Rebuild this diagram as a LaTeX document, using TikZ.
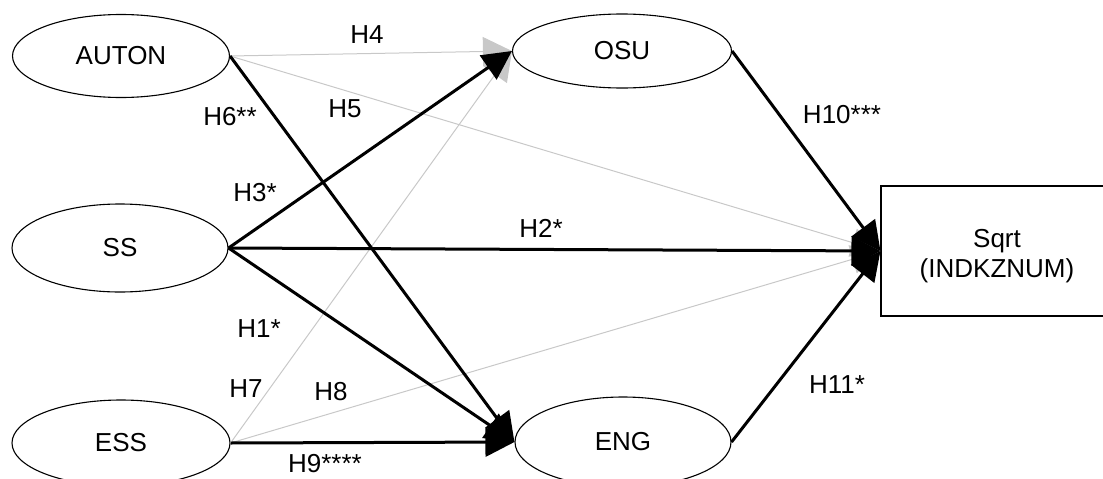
\documentclass[tikz,border=0pt]{standalone}
\usepackage{fontspec}
\setmainfont{Liberation Sans}
\usetikzlibrary{arrows.meta,shapes.geometric}
\newcommand\lblfont{\fontsize{26}{30}\selectfont}
\definecolor{weakgray}{RGB}{200,200,200}
\begin{document}
\begin{tikzpicture}[x=1pt,y=-1pt,
  construct/.style={ellipse,draw,line width=1.1pt,inner sep=0pt,font=\lblfont},
  outcome/.style={rectangle,draw,line width=1.1pt,inner sep=0pt},
  strongpath/.style={line width=3pt,-{Triangle[length=29pt,width=29pt]}},
  weakpath/.style={line width=1pt,draw=weakgray,-{Triangle[length=29pt,width=29pt,fill=weakgray]}},
  hyp/.style={anchor=base,inner sep=0pt,font=\lblfont}]
\useasboundingbox (0,0) rectangle (1103,479);

% latent constructs
\node[construct,minimum width=217pt,minimum height=83pt] (auton) at (121,56) {AUTON};
\node[construct,minimum width=216pt,minimum height=88pt] (ss) at (120,248) {SS};
\node[construct,minimum width=218pt,minimum height=86pt] (ess) at (121,443) {ESS};
\node[construct,minimum width=219pt,minimum height=74pt] (osu) at (622,51) {OSU};
\node[construct,minimum width=216pt,minimum height=90pt] (eng) at (623,442) {ENG};

% outcome box and its caption
\node[outcome,minimum width=232pt,minimum height=130pt] (sqrt) at (997,251) {};
\node[align=center,inner sep=0pt,font=\lblfont] (sqrtlabel) at (997,256) {Sqrt\\(INDKZNUM)};

% non-significant paths
\draw[weakpath] (auton.east) -- (osu.west);
\draw[weakpath] (auton.east) -- (sqrt.west);
\draw[weakpath] (ess.east) -- (osu.west);
\draw[weakpath] (ess.east) -- (sqrt.west);

% significant paths
\draw[strongpath] (auton.east) -- (eng.west);
\draw[strongpath] (ss.east) -- (osu.west);
\draw[strongpath] (ss.east) -- (sqrt.west);
\draw[strongpath] (ss.east) -- (eng.west);
\draw[strongpath] (ess.east) -- (eng.west);
\draw[strongpath] (osu.east) -- (sqrt.west);
\draw[strongpath] (eng.east) -- (sqrt.west);

% hypothesis labels
\node[hyp] (h4) at (367,43) {H4};
\node[hyp] (h5) at (345,117) {H5};
\node[hyp] (h6) at (230,125) {H6**};
\node[hyp] (h3) at (255,201) {H3*};
\node[hyp] (h2) at (541,237) {H2*};
\node[hyp] (h1) at (259,337) {H1*};
\node[hyp] (h7) at (246,397) {H7};
\node[hyp] (h8) at (331,400) {H8};
\node[hyp] (h9) at (325,472) {H9****};
\node[hyp] (h10) at (842,123) {H10***};
\node[hyp] (h11) at (837,393) {H11*};
\end{tikzpicture}
\end{document}
